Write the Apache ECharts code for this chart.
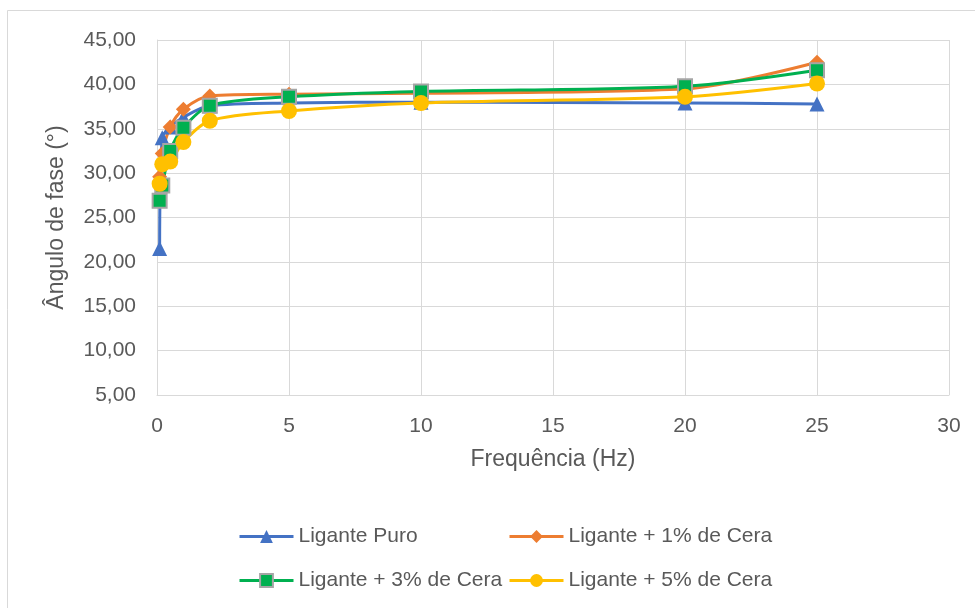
<!DOCTYPE html>
<html>
<head>
<meta charset="utf-8">
<script src="https://cdn.jsdelivr.net/npm/echarts@6/dist/echarts.min.js"></script>
<style>
  html, body { margin: 0; padding: 0; background: #fff; }
  #chart { width: 975px; height: 608px; }
</style>
</head>
<body>
<div id="chart"></div>
<script>
// Frequências (Hz) e ângulo de fase (°)
const frequencias = [0.1, 0.2, 0.5, 1, 2, 5, 10, 20, 25];
const ligantePuro = [21.5, 34.0, 35.2, 36.3, 37.6, 37.9, 38.0, 37.9, 37.8];
const cera1 = [29.6, 32.2, 35.2, 37.2, 38.7, 38.9, 39.0, 39.5, 42.5];
const cera3 = [26.9, 28.6, 32.5, 35.1, 37.6, 38.6, 39.2, 39.8, 41.6];
const cera5 = [28.8, 31.0, 31.3, 33.5, 35.9, 37.0, 37.9, 38.6, 40.1];
const nomes = ["Ligante Puro", "Ligante + 1% de Cera", "Ligante + 3% de Cera", "Ligante + 5% de Cera"];

const fonte = "Liberation Sans";
const cinza = "#595959";

const chart = echarts.init(document.getElementById("chart"));

const pares = (ys) => frequencias.map((f, i) => [f, ys[i]]);

function serie(nome, ys, cor, simbolo, tamanho, extra) {
    return {
        name: nome,
        type: "line",
        smooth: 0.3,
        symbol: simbolo,
        symbolSize: tamanho,
        lineStyle: { width: 3, color: cor },
        itemStyle: Object.assign({ color: cor }, extra || {}),
        data: pares(ys)
    };
}

function legenda(nome, left, top) {
    return {
        data: [nome],
        left: left,
        top: top,
        padding: 0,
        itemWidth: 54,
        itemHeight: 16,
        lineStyle: { width: 3 },
        textStyle: { color: cinza, fontSize: 21, fontFamily: fonte }
    };
}

const option = {
    backgroundColor: "#fff",
    animation: false,
    graphic: [{
        type: "rect",
        shape: { x: 7.5, y: 10.5, width: 975, height: 605 },
        style: { fill: "none", stroke: "#d9d9d9", lineWidth: 1 },
        silent: true
    }],
    legend: [
        legenda(nomes[0], 238, 526),
        legenda(nomes[1], 508, 526),
        legenda(nomes[2], 238, 570),
        legenda(nomes[3], 508, 570)
    ],
    grid: { left: 157, top: 40, width: 792, height: 355, containLabel: false },
    xAxis: {
        type: "value",
        min: 0,
        max: 30,
        interval: 5,
        name: "Frequência (Hz)",
        nameLocation: "middle",
        nameGap: 53,
        nameTextStyle: { color: cinza, fontSize: 23, fontFamily: fonte },
        axisLine: { show: true, onZero: false, lineStyle: { color: "#d9d9d9" } },
        axisTick: { show: false },
        axisLabel: { color: cinza, fontSize: 21, fontFamily: fonte, margin: 21 },
        splitLine: { show: true, lineStyle: { color: "#d9d9d9" } }
    },
    yAxis: {
        type: "value",
        min: 5,
        max: 45,
        interval: 5,
        name: "Ângulo de fase (°)",
        nameLocation: "middle",
        nameGap: 89,
        nameTextStyle: { color: cinza, fontSize: 23, fontFamily: fonte },
        axisLine: { show: true, lineStyle: { color: "#d9d9d9" } },
        axisTick: { show: false },
        axisLabel: {
            color: cinza, fontSize: 21, fontFamily: fonte, margin: 21,
            formatter: (v) => v.toFixed(2).replace(".", ",")
        },
        splitLine: { show: true, lineStyle: { color: "#d9d9d9" } }
    },
    series: [
        serie(nomes[0], ligantePuro, "#4472C4", "triangle", 15),
        serie(nomes[1], cera1, "#ED7D31", "diamond", 15),
        serie(nomes[2], cera3, "#00B050", "rect", 14, { borderColor: "#a5a5a5", borderWidth: 2 }),
        serie(nomes[3], cera5, "#FFC000", "circle", 16)
    ]
};

chart.setOption(option);
window.addEventListener("resize", () => chart.resize());
</script>
</body>
</html>
